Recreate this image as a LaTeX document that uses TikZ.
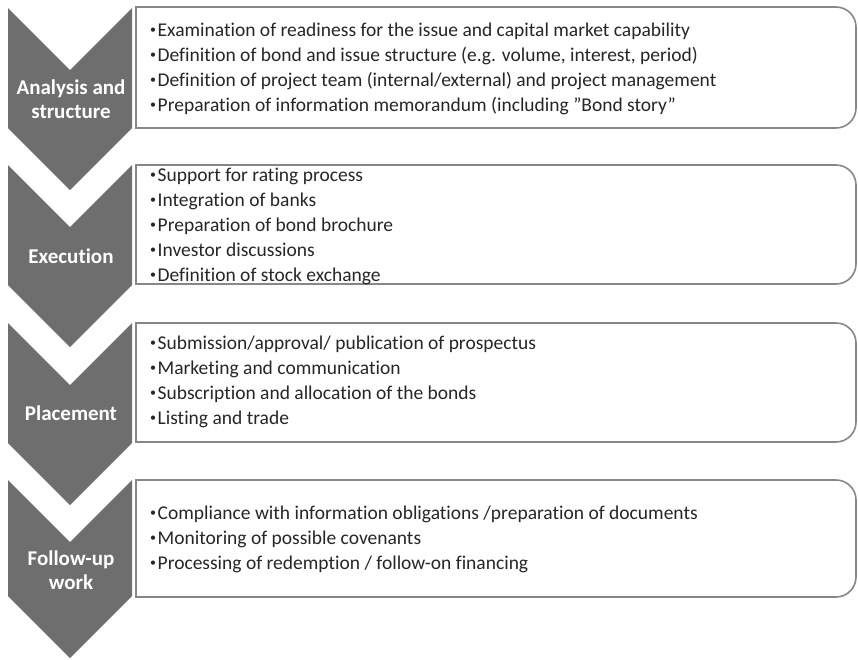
\documentclass[tikz,border=0pt]{standalone}
\usepackage{fontspec}
\setmainfont{Carlito}[Ligatures=NoCommon]
\usetikzlibrary{positioning}

\definecolor{chevgray}{RGB}{110,110,110}
\definecolor{boxgray}{RGB}{135,135,135}

\newcommand{\itembul}{{\fontsize{12}{12}\selectfont\raisebox{3pt}{\textbullet}}\hspace{1.5pt}}

\tikzset{
  chevron/.style={fill=chevgray, draw=none},
  stagebox/.style={draw=boxgray, line width=1.6pt, fill=white},
  stagelabel/.style={text=white, font=\fontsize{21}{24.5}\selectfont\bfseries, align=center, inner sep=0pt},
  item/.style={font=\fontsize{19.5}{25}\selectfont, anchor=base west, inner sep=0pt, text=black!85}
}

\begin{document}
\begin{tikzpicture}[x=1pt,y=-1pt]
      \useasboundingbox (0,0) rectangle (858,659);

      % chevrons: top / bottom of the straight part
      \foreach \t/\b in {8/128, 165/285, 323/443, 480/596}
      \draw[chevron] (8,\t) -- (70,{\t+62}) -- (132,\t) -- (132,\b)
                     -- (70,{\b+62}) -- (8,\b) -- cycle;

      % boxes, rounded on the right side only
      \foreach \t/\b in {7/128, 165/284, 323/442, 480/597}
      \draw[stagebox] (136,\t) -- (836,\t) arc[start angle=-90, end angle=0, radius=20]
                      -- (856,{\b-20}) arc[start angle=0, end angle=90, radius=20]
                      -- (136,\b) -- cycle;

      % stage names
      \node[stagelabel] (ana) at (71,99) {Analysis and\\structure};
      \node[stagelabel] (exe) at (71,256) {Execution};
      \node[stagelabel] (pla) at (71,413) {Placement};
      \node[stagelabel] (fol) at (71,570) {Follow-up\\work};

      % items
      \foreach \txt [count=\i] in {
        {Examination of readiness for the issue and capital market capability},
        {Definition of bond and issue structure (e.g. volume, interest, period)},
        {Definition of project team (internal/external) and project management},
        {Preparation of information memorandum (including \symbol{34}Bond story\symbol{34}}}
      \node[item] (ana-\i) at (150,{36+25*(\i-1)}) {\itembul\txt};

      \foreach \txt [count=\i] in {
        {Support for rating process},
        {Integration of banks},
        {Preparation of bond brochure},
        {Investor discussions},
        {Definition of stock exchange}}
      \node[item] (exe-\i) at (150,{181+25*(\i-1)}) {\itembul\txt};

      \foreach \txt [count=\i] in {
        {Submission/approval/ publication of prospectus},
        {Marketing and communication},
        {Subscription and allocation of the bonds},
        {Listing and trade}}
      \node[item] (pla-\i) at (150,{349+25*(\i-1)}) {\itembul\txt};

      \foreach \txt [count=\i] in {
        {Compliance with information obligations /preparation of documents},
        {Monitoring of possible covenants},
        {Processing of redemption / follow-on financing}}
      \node[item] (fol-\i) at (150,{519+25*(\i-1)}) {\itembul\txt};
\end{tikzpicture}
\end{document}
